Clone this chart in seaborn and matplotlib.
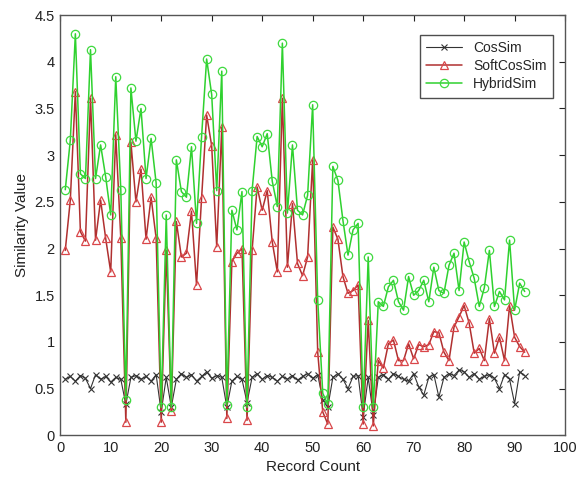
import numpy as np
import pandas as pd
import matplotlib
matplotlib.use("Agg")
import matplotlib.pyplot as plt
import seaborn as sns

record = list(range(1, 93))

cos_sim = [0.60, 0.63, 0.58, 0.64, 0.61, 0.50, 0.65, 0.60, 0.63, 0.57,
           0.62, 0.60, 0.33, 0.62, 0.64, 0.60, 0.63, 0.58, 0.65, 0.25,
           0.62, 0.30, 0.60, 0.66, 0.62, 0.65, 0.58, 0.63, 0.68, 0.61,
           0.64, 0.62, 0.30, 0.58, 0.63, 0.60, 0.35, 0.62, 0.66, 0.60,
           0.64, 0.62, 0.58, 0.63, 0.60, 0.64, 0.59, 0.63, 0.66, 0.61,
           0.65, 0.38, 0.30, 0.62, 0.66, 0.60, 0.50, 0.63, 0.64, 0.20,
           0.62, 0.22, 0.62, 0.65, 0.60, 0.66, 0.63, 0.60, 0.58, 0.66,
           0.52, 0.43, 0.62, 0.65, 0.41, 0.62, 0.66, 0.64, 0.70, 0.68,
           0.62, 0.66, 0.60, 0.63, 0.65, 0.61, 0.50, 0.65, 0.60, 0.34,
           0.68, 0.64]

soft_cos_sim = [1.98, 2.52, 3.68, 2.18, 2.08, 3.61, 2.09, 2.52, 2.11, 1.75,
                3.22, 2.11, 0.14, 3.14, 2.50, 2.85, 2.10, 2.55, 2.11, 0.14,
                1.98, 0.26, 2.29, 1.91, 1.95, 2.40, 1.61, 2.54, 3.43, 3.10,
                2.02, 3.30, 0.18, 1.86, 1.95, 2.00, 0.16, 1.98, 2.66, 2.41,
                2.62, 2.07, 1.75, 3.61, 1.80, 2.48, 1.84, 1.71, 1.91, 2.95,
                0.89, 0.25, 0.12, 2.23, 2.10, 1.70, 1.52, 1.55, 1.61, 0.12,
                1.23, 0.10, 0.80, 0.72, 0.98, 1.02, 0.80, 0.80, 0.98, 0.82,
                0.97, 0.95, 0.97, 1.11, 1.10, 0.89, 0.80, 1.16, 1.27, 1.39,
                1.20, 0.88, 0.93, 0.80, 1.25, 0.88, 1.05, 0.80, 1.39, 1.05,
                0.95, 0.89]

hybrid_sim = [2.63, 3.16, 4.30, 2.80, 2.75, 4.13, 2.75, 3.11, 2.77, 2.36,
              3.84, 2.63, 0.38, 3.72, 3.15, 3.50, 2.75, 3.18, 2.70, 0.30,
              2.36, 0.30, 2.95, 2.61, 2.55, 3.09, 2.27, 3.20, 4.03, 3.65,
              2.62, 3.90, 0.32, 2.41, 2.20, 2.61, 0.30, 2.62, 3.20, 3.09,
              3.23, 2.72, 2.45, 4.20, 2.38, 3.11, 2.41, 2.36, 2.57, 3.54,
              1.45, 0.45, 0.33, 2.88, 2.73, 2.30, 1.93, 2.20, 2.27, 0.30,
              1.91, 0.30, 1.43, 1.38, 1.59, 1.66, 1.43, 1.34, 1.70, 1.50,
              1.55, 1.66, 1.43, 1.80, 1.55, 1.52, 1.82, 1.95, 1.55, 2.07,
              1.86, 1.68, 1.38, 1.58, 1.98, 1.38, 1.54, 1.45, 2.09, 1.34,
              1.63, 1.54]

series_names = ["CosSim", "SoftCosSim", "HybridSim"]
x_ticks = [0, 10, 20, 30, 40, 50, 60, 70, 80, 90, 100]
y_ticks = [0, 0.5, 1, 1.5, 2, 2.5, 3, 3.5, 4, 4.5]
y_tick_labels = ["0", "0.5", "1", "1.5", "2", "2.5", "3", "3.5", "4", "4.5"]

sns.set_style("white")
plt.rcParams["font.family"] = ["Liberation Sans", "DejaVu Sans"]

fig = plt.figure(figsize=(5.79, 4.88), dpi=100)
ax = fig.add_axes([0.104, 0.108, 0.872, 0.861])

styles = {
    "CosSim": dict(color="#333333", marker="x", ms=5, lw=0.8, mew=0.8,
                   mec="#333333"),
    "SoftCosSim": dict(color="#b03030", marker="^", ms=6, lw=1.1, mew=0.9,
                       mec="#d9474a"),
    "HybridSim": dict(color="#2fd12f", marker="o", ms=6, lw=1.1, mew=0.9,
                      mec="#3fd93f"),
}
values = {"CosSim": cos_sim, "SoftCosSim": soft_cos_sim, "HybridSim": hybrid_sim}

for name in series_names:
    st = styles[name]
    sns.lineplot(x=record, y=values[name], ax=ax, label=name,
                 color=st["color"], marker=st["marker"], markersize=st["ms"],
                 linewidth=st["lw"], markeredgewidth=st["mew"],
                 markeredgecolor=st["mec"], markerfacecolor="none")

ax.set_xlim(0, 100)
ax.set_ylim(0, 4.5)
ax.set_xticks(x_ticks)
ax.set_yticks(y_ticks)
ax.set_yticklabels(y_tick_labels)
ax.tick_params(direction="in", length=4, width=0.8, top=True, right=True,
               labelsize=10.5, colors="#222222", pad=4)
for sp in ax.spines.values():
    sp.set_color("#555555")
    sp.set_linewidth(1.0)
ax.set_xlabel("Record Count", fontsize=11, color="#222222")
ax.set_ylabel("Similarity Value", fontsize=11, color="#222222")

leg = ax.legend(loc="upper right", bbox_to_anchor=(0.99, 0.97), fontsize=10,
                frameon=True, fancybox=False, edgecolor="#222222",
                borderpad=0.45, handlelength=2.6, labelspacing=0.3)
leg.get_frame().set_linewidth(1.0)

fig.savefig("out.png", dpi=100)
